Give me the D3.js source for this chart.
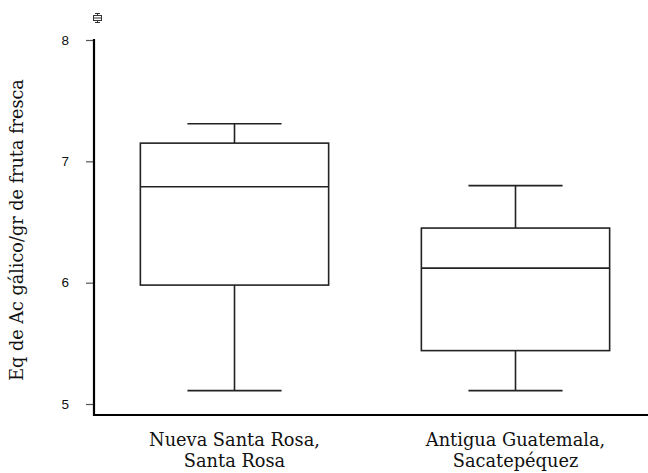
<!DOCTYPE html>
<html>
<head>
<meta charset="utf-8">
<script src="https://cdn.jsdelivr.net/npm/d3@7"></script>
<style>
  html, body { margin: 0; padding: 0; background: #fff; }
  svg { display: block; }
</style>
</head>
<body>
<svg id="chart" width="648" height="473"></svg>
<script>
// Sites (two lines per label)
const categories = ["Nueva Santa Rosa, Santa Rosa", "Antigua Guatemala, Sacatepéquez"];
const categoryLines = [["Nueva Santa Rosa,", "Santa Rosa"], ["Antigua Guatemala,", "Sacatepéquez"]];
// Box statistics per site
const whiskerLow  = [5.11, 5.11];
const q1          = [5.98, 5.44];
const median      = [6.79, 6.12];
const q3          = [7.15, 6.45];
const whiskerHigh = [7.31, 6.80];
const yTicks = [5, 6, 7, 8];
const yLabel = "Eq de Ac gálico/gr de fruta fresca";

const svg = d3.select("#chart");
const x = d3.scaleBand().domain(categories).range([94, 656]);
const y = d3.scaleLinear().domain([5, 8]).range([404, 40]);

const boxW = x.bandwidth() * 0.67;
const capW = x.bandwidth() * 0.335;
const stroke = "#222";

// Y axis
const yAxis = d3.axisLeft(y).tickValues(yTicks).tickSize(8).tickPadding(17).tickFormat(d3.format("d"));
const gy = svg.append("g").attr("transform", "translate(94,0)").call(yAxis);
gy.select(".domain").remove();
gy.selectAll(".tick line").attr("stroke", "#555").attr("stroke-width", 1.2);
gy.selectAll(".tick text").attr("font-family", "Liberation Sans, Arial, sans-serif").attr("font-size", 13.5).attr("fill", "#111");
svg.append("line").attr("x1", 94).attr("x2", 94).attr("y1", 39).attr("y2", 416)
  .attr("stroke", "#000").attr("stroke-width", 2.2);
// X axis
svg.append("line").attr("x1", 93).attr("x2", 648).attr("y1", 415).attr("y2", 415)
  .attr("stroke", "#000").attr("stroke-width", 2.2);

// Boxes
const data = categories.map((c, i) => ({
  c, lo: whiskerLow[i], q1: q1[i], med: median[i], q3: q3[i], hi: whiskerHigh[i]
}));
const g = svg.append("g").attr("fill", "none").attr("stroke", stroke).attr("stroke-width", 1.6);
data.forEach(d => {
  const cx = x(d.c) + x.bandwidth() / 2;
  // whisker stems
  g.append("line").attr("x1", cx).attr("x2", cx).attr("y1", y(d.hi)).attr("y2", y(d.q3));
  g.append("line").attr("x1", cx).attr("x2", cx).attr("y1", y(d.q1)).attr("y2", y(d.lo));
  // caps
  g.append("line").attr("x1", cx - capW / 2).attr("x2", cx + capW / 2).attr("y1", y(d.hi)).attr("y2", y(d.hi));
  g.append("line").attr("x1", cx - capW / 2).attr("x2", cx + capW / 2).attr("y1", y(d.lo)).attr("y2", y(d.lo));
  // box
  g.append("rect").attr("x", cx - boxW / 2).attr("y", y(d.q3)).attr("width", boxW).attr("height", y(d.q1) - y(d.q3)).attr("fill", "#fff");
  // median
  g.append("line").attr("x1", cx - boxW / 2).attr("x2", cx + boxW / 2).attr("y1", y(d.med)).attr("y2", y(d.med));
});

// Size a text element so its rendered width hits a target length
function fitFont(sel, target, base) {
  sel.attr("font-size", base);
  const w = sel.node().getComputedTextLength();
  if (w > 0) sel.attr("font-size", base * target / w);
  return +sel.attr("font-size");
}

// Category labels
const serif = "Georgia, 'DejaVu Serif', 'Liberation Serif', serif";
const probe = svg.append("text").attr("font-family", serif).text(categoryLines[0][0]);
const labelSize = Math.min(18, fitFont(probe, 171, 16));
probe.remove();
data.forEach((d, i) => {
  const cx = x(d.c) + x.bandwidth() / 2;
  const t = svg.append("text").attr("x", cx).attr("y", 446).attr("text-anchor", "middle")
    .attr("font-family", serif).attr("font-size", labelSize).attr("fill", "#111");
  categoryLines[i].forEach((line, k) => {
    t.append("tspan").attr("x", cx).attr("dy", k === 0 ? 0 : 20.5).text(line);
  });
});

// Y axis title
const yt = svg.append("text").attr("transform", "translate(23,230) rotate(-90)").attr("text-anchor", "middle")
  .attr("font-family", serif).attr("fill", "#111").text(yLabel);
yt.attr("font-size", Math.min(18, fitFont(yt, 302, 16)));

// Small box-plot glyph above the axis
const ic = svg.append("g").attr("stroke", "#333").attr("stroke-width", 1).attr("fill", "#fff");
ic.append("line").attr("x1", 97.5).attr("x2", 97.5).attr("y1", 13).attr("y2", 23);
ic.append("line").attr("x1", 95).attr("x2", 100).attr("y1", 13.5).attr("y2", 13.5);
ic.append("line").attr("x1", 95).attr("x2", 100).attr("y1", 22.5).attr("y2", 22.5);
ic.append("rect").attr("x", 93.5).attr("y", 15.5).attr("width", 8).attr("height", 5);
ic.append("line").attr("x1", 93.5).attr("x2", 101.5).attr("y1", 18).attr("y2", 18);
</script>
</body>
</html>
